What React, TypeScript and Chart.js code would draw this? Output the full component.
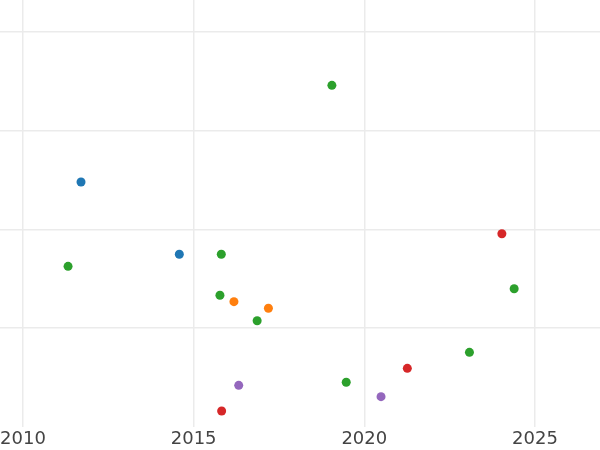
import React, { useEffect, useRef } from "react";
import { Chart, registerables } from "chart.js";

Chart.register(...registerables);

const blueX = [2011.7, 2014.58];
const blueY = [2.481, 1.749];
const greenX = [2019.05, 2011.32, 2015.81, 2015.77, 2016.86, 2024.39, 2023.08, 2019.47];
const greenY = [3.46, 1.627, 1.749, 1.334, 1.076, 1.4, 0.756, 0.453];
const orangeX = [2016.18, 2017.19];
const orangeY = [1.269, 1.202];
const redX = [2024.03, 2021.26, 2015.82];
const redY = [1.957, 0.594, 0.162];
const purpleX = [2016.32, 2020.49];
const purpleY = [0.422, 0.307];

const xMin = 2009.326;
const xMax = 2026.905;
const yMin = 0;
const yMax = 4.324;

function pts(xs: number[], ys: number[]) {
  return xs.map((x, i) => ({ x, y: ys[i] }));
}

export default function App() {
  const ref = useRef<HTMLCanvasElement | null>(null);
  useEffect(() => {
    if (!ref.current) return;
    const mk = (label: string, xs: number[], ys: number[], color: string) => ({
      label,
      data: pts(xs, ys),
      backgroundColor: color,
      borderColor: color,
      pointRadius: 4.5,
      pointBorderWidth: 0,
    });
    const chart = new Chart(ref.current, {
      type: "scatter",
      data: {
        datasets: [
          mk("a", blueX, blueY, "#1f77b4"),
          mk("b", greenX, greenY, "#2ca02c"),
          mk("c", orangeX, orangeY, "#ff7f0e"),
          mk("d", redX, redY, "#d62728"),
          mk("e", purpleX, purpleY, "#9467bd"),
        ],
      },
      options: {
        responsive: false,
        animation: false,
        layout: { padding: 0, autoPadding: false },
        plugins: { legend: { display: false }, tooltip: { enabled: false } },
        scales: {
          x: {
            type: "linear",
            min: xMin,
            max: xMax,
            border: { display: false },
            grid: { color: "#ebebeb", lineWidth: 1.5, drawTicks: false },
            afterFit: (s: any) => {
              s.height = 23;
              s.paddingLeft = 0;
              s.paddingRight = 0;
            },
            ticks: {
              stepSize: 5,
              includeBounds: false,
              padding: 2,
              color: "#444444",
              font: { family: "DejaVu Sans", size: 18 },
              maxRotation: 0,
              callback: (v: any) => String(v),
            },
          },
          y: {
            type: "linear",
            min: yMin,
            max: yMax,
            border: { display: false },
            afterFit: (s: any) => {
              s.width = 0;
              s.paddingTop = 0;
              s.paddingBottom = 0;
            },
            grid: {
              drawTicks: false,
              lineWidth: 1.5,
              color: (ctx: any) => (ctx.tick && ctx.tick.value === 0 ? "rgba(0,0,0,0)" : "#ebebeb"),
            },
            ticks: { display: false, stepSize: 1, includeBounds: false },
          },
        },
      },
    });
    return () => chart.destroy();
  }, []);
  return (
    <div style={{ position: "fixed", left: 0, top: 0, width: 600, height: 450, background: "#fff" }}>
      <canvas ref={ref} width={600} height={450} />
    </div>
  );
}
